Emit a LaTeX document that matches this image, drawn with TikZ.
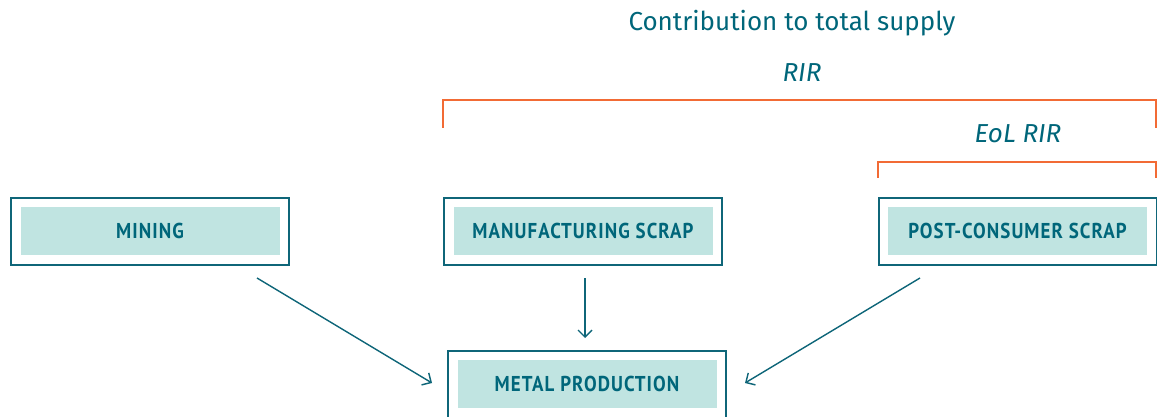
\documentclass[tikz,border=0pt]{standalone}
\usepackage{fontspec}
\setmainfont{Fira Sans}
\newfontfamily\boxfont[FakeStretch=0.88,LetterSpace=5]{PT Sans}
\usetikzlibrary{arrows.meta,positioning}
\definecolor{teal1}{HTML}{0F6679}
\definecolor{tealtext}{HTML}{00667A}
\definecolor{fillc}{HTML}{C0E4E1}
\definecolor{orng}{HTML}{F26B35}
\tikzset{
  outerbox/.style={draw=teal1,line width=2pt,minimum width=278pt,minimum height=67pt,inner sep=0pt},
  innerbox/.style={fill=fillc,minimum width=259pt,minimum height=48pt,inner sep=0pt,text=tealtext,font=\boxfont\bfseries\fontsize{21.5}{26}\selectfont},
  flow/.style={draw=teal1,line width=1.4pt,-{Straight Barb[length=7pt,width=14pt,line width=1.4pt]}},
  brack/.style={draw=orng,line width=1.5pt},
  hdr/.style={text=tealtext,font=\fontsize{26}{30}\selectfont},
  hdri/.style={text=tealtext,font=\itshape\fontsize{26}{30}\selectfont},
}
\begin{document}
\begin{tikzpicture}[x=1pt,y=-1pt]
\useasboundingbox (0,0) rectangle (1157,417);
% boxes
\node[outerbox] (mineo) at (150,231) {};
\node[innerbox] (mine) at (150,231) {MINING};
\node[outerbox] (manuo) at (583,231) {};
\node[innerbox] (manu) at (583,231) {MANUFACTURING SCRAP};
\node[outerbox] (posto) at (1017.5,231) {};
\node[innerbox] (post) at (1017.5,231) {POST-CONSUMER SCRAP};
\node[outerbox] (metalo) at (587,384) {};
\node[innerbox] (metal) at (587,384) {METAL PRODUCTION};
% texts
\node[hdr] (title) at (792,23) {Contribution to total supply};
\node[hdri] (rir) at (802,73) {RIR};
\node[hdri] (eol) at (1018,134) {EoL RIR};
% brackets
\coordinate (r1) at (443,128);
\coordinate (r2) at (443,100);
\coordinate (r3) at (1156,100);
\coordinate (r4) at (1156,128);
\draw[brack] (r1) -- (r2) -- (r3) -- (r4);
\coordinate (e1) at (878,178);
\coordinate (e2) at (878,162);
\coordinate (e3) at (1156,162);
\coordinate (e4) at (1156,178);
\draw[brack] (e1) -- (e2) -- (e3) -- (e4);
% arrows
\coordinate (a1s) at (257,278);
\coordinate (a1e) at (432,383);
\coordinate (a2s) at (585,278);
\coordinate (a2e) at (585,338);
\coordinate (a3s) at (920,278);
\coordinate (a3e) at (745,383);
\draw[flow] (a1s) -- (a1e);
\draw[flow] (a2s) -- (a2e);
\draw[flow] (a3s) -- (a3e);
\end{tikzpicture}
\end{document}
